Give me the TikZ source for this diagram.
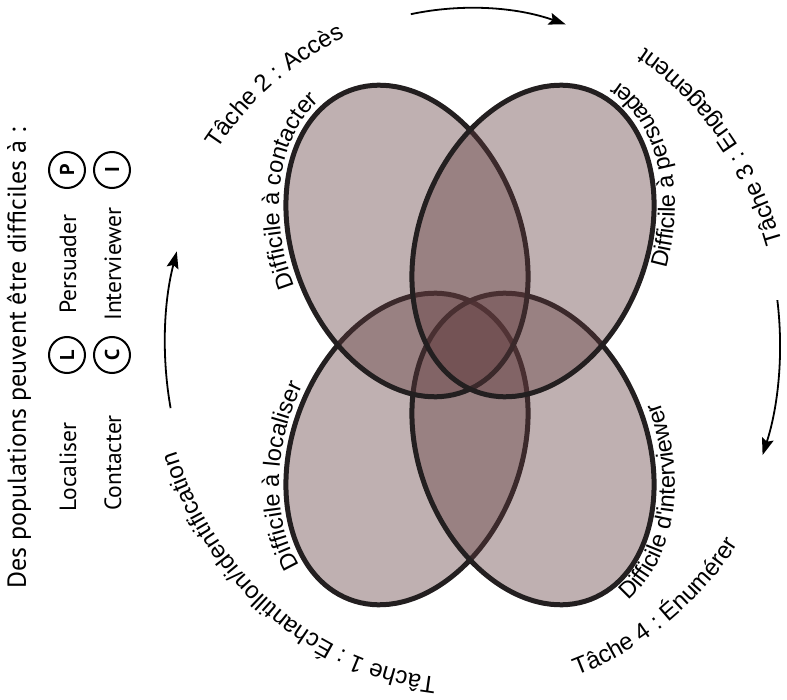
\documentclass[tikz,border=0pt]{standalone}
\usepackage{fontspec}
\usetikzlibrary{decorations.text,arrows.meta}
\newfontfamily\tfont{Liberation Sans}
\newfontfamily\lfont{PT Sans}
\definecolor{ink}{RGB}{35,31,32}
\definecolor{petalc}{RGB}{95,58,60}
\tikzset{
  petal/.style={draw=ink, line width=5, fill=petalc, fill opacity=0.40},
  cyc/.style={line width=1.8, draw=black, -{Stealth[length=17pt,width=12pt,inset=3pt]}},
  leg/.style={font=\lfont\fontsize{23.5}{28}\selectfont, rotate=90, inner sep=0},
  badge/.style={circle, draw=black, line width=2, minimum size=36pt, inner sep=0,
     rotate=90, font=\lfont\bfseries\fontsize{20}{20}\selectfont}
}
\newcommand{\tsz}{\tfont\fontsize{24}{27}\selectfont}
\newcommand{\dsz}{\tfont\fontsize{23.5}{27}\selectfont}
\begin{document}
\begin{tikzpicture}[x=1pt,y=-1pt]
\useasboundingbox (0,0) rectangle (787,700);
\coordinate (O) at (470,344);
% petals
\draw[petal, rotate around={-21:(407,449)}] (407,449) coordinate (bl) ellipse [x radius=114, y radius=161];
\draw[petal, rotate around={21:(533,449)}] (533,449) coordinate (br) ellipse [x radius=114, y radius=161];
\draw[petal, rotate around={21:(407,241)}] (407,241) coordinate (tl) ellipse [x radius=114, y radius=161];
\draw[petal, rotate around={-21:(533,241)}] (533,241) coordinate (tr) ellipse [x radius=114, y radius=161];
% petal labels
\path[rotate around={21:(407,241)}, decorate, decoration={text along path, text align=center,
  text={|\dsz|Difficile à contacter}}]
  (tl) ++(145:121 and 168) arc[start angle=145, end angle=300, x radius=121, y radius=168];
\path[rotate around={-21:(533,241)}, decorate, decoration={text along path, text align=center,
  text={|\dsz|Difficile à persuader}}]
  (tr) ++(31:135 and 182) arc[start angle=31, end angle=-129, x radius=135, y radius=182];
\path[rotate around={-21:(407,449)}, decorate, decoration={text along path, text align=center,
  text={|\dsz|Difficile à localiser}}]
  (bl) ++(82:121 and 168) arc[start angle=82, end angle=216, x radius=121, y radius=168];
\path[rotate around={21:(533,449)}, decorate, decoration={text along path, text align=center,
  text={|\dsz|Difficile d'interviewer}}]
  (br) ++(128:135 and 182) arc[start angle=128, end angle=-42, x radius=135, y radius=182];
% task labels
\path[decorate, decoration={text along path, text align=center, text={|\tsz|Tâche 2 : Accès}}]
  (O) ++(192:310 and 335) arc[start angle=192, end angle=271, x radius=310, y radius=335];
\path[decorate, decoration={text along path, text align=center, text={|\tsz|Tâche 3 : Engagement}}]
  (O) ++(368:326 and 351) arc[start angle=368, end angle=276, x radius=326, y radius=351];
\path[decorate, decoration={text along path, text align=center, text={|\tsz|Tâche 4 : Énumérer}}]
  (O) ++(95:326 and 351) arc[start angle=95, end angle=12, x radius=326, y radius=351];
\path[decorate, decoration={text along path, text align=center, text={|\tsz|Tâche 1 : Échantillon/identification}}]
  (O) ++(75:310 and 335) arc[start angle=75, end angle=181, x radius=310, y radius=335];
% cycle arrows
\draw[cyc] (O) ++(259:310 and 336) arc[start angle=259, end angle=288, x radius=310, y radius=336];
\draw[cyc] (O) ++(-7.5:310 and 336) arc[start angle=-7.5, end angle=19.3, x radius=310, y radius=336];
\draw[cyc] (O) ++(169:305 and 336) arc[start angle=169, end angle=196, x radius=305, y radius=336];
% legend
\node[leg, font=\lfont\fontsize{26}{30}\selectfont] (title) at (19,358) {Des populations peuvent être difficiles à :};
\node[leg] (loc) at (68,467) {Localiser};
\node[badge] (bL) at (67,355) {L};
\node[leg] (per) at (68,264) {Persuader};
\node[badge] (bP) at (67,170) {P};
\node[leg] (con) at (113,463) {Contacter};
\node[badge] (bC) at (112,355) {C};
\node[leg] (int) at (113,264) {Interviewer};
\node[badge] (bI) at (112,170) {I};
\end{tikzpicture}
\end{document}
